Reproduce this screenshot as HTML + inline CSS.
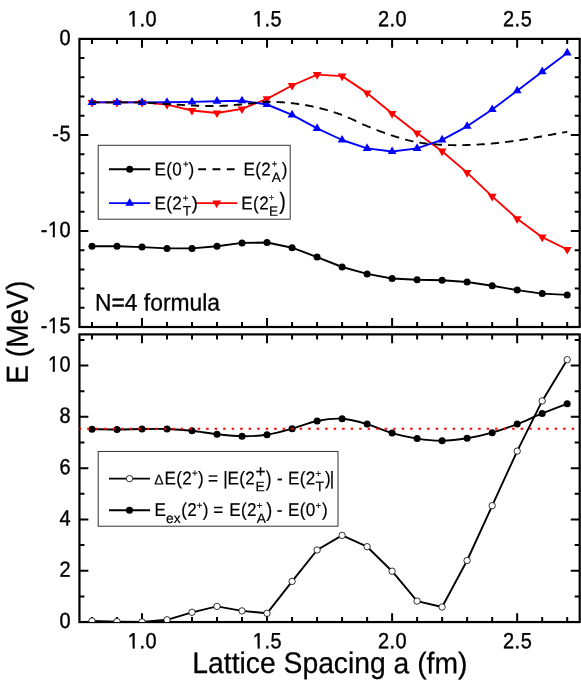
<!DOCTYPE html>
<html><head><meta charset="utf-8"><title>chart</title><style>html,body{margin:0;padding:0;background:#fff}svg{position:absolute;left:0;top:0}body{width:581px;height:681px;overflow:hidden;font-family:"Liberation Sans",sans-serif}</style></head><body>
<svg width="581" height="681" viewBox="0 0 581 681" style="display:block;will-change:transform" font-family="Liberation Sans, sans-serif">
<rect width="581" height="681" fill="#fff"/>
<defs>
<clipPath id="c1"><rect x="79.45" y="38.9" width="500.25" height="288.10"/></clipPath>
<clipPath id="c2"><rect x="79.45" y="334.4" width="500.25" height="287.65"/></clipPath>
</defs>
<rect x="79.45" y="38.9" width="500.25" height="288.10" fill="none" stroke="#000" stroke-width="2.2"/>
<rect x="79.45" y="334.4" width="500.25" height="287.65" fill="none" stroke="#000" stroke-width="2.2"/>
<path d="M91.96,38.9 v5.0 M91.96,327.0 v-5.0 M116.97,38.9 v5.0 M116.97,327.0 v-5.0 M141.98,38.9 v8.9 M141.98,327.0 v-8.9 M166.99,38.9 v5.0 M166.99,327.0 v-5.0 M192.01,38.9 v5.0 M192.01,327.0 v-5.0 M217.02,38.9 v5.0 M217.02,327.0 v-5.0 M242.03,38.9 v5.0 M242.03,327.0 v-5.0 M267.04,38.9 v8.9 M267.04,327.0 v-8.9 M292.06,38.9 v5.0 M292.06,327.0 v-5.0 M317.07,38.9 v5.0 M317.07,327.0 v-5.0 M342.08,38.9 v5.0 M342.08,327.0 v-5.0 M367.09,38.9 v5.0 M367.09,327.0 v-5.0 M392.11,38.9 v8.9 M392.11,327.0 v-8.9 M417.12,38.9 v5.0 M417.12,327.0 v-5.0 M442.13,38.9 v5.0 M442.13,327.0 v-5.0 M467.14,38.9 v5.0 M467.14,327.0 v-5.0 M492.16,38.9 v5.0 M492.16,327.0 v-5.0 M517.17,38.9 v8.9 M517.17,327.0 v-8.9 M542.18,38.9 v5.0 M542.18,327.0 v-5.0 M567.19,38.9 v5.0 M567.19,327.0 v-5.0" stroke="#000" stroke-width="2.0" fill="none"/>
<path d="M91.96,334.4 v5.0 M91.96,622.05 v-5.0 M116.97,334.4 v5.0 M116.97,622.05 v-5.0 M141.98,334.4 v8.9 M141.98,622.05 v-8.9 M166.99,334.4 v5.0 M166.99,622.05 v-5.0 M192.01,334.4 v5.0 M192.01,622.05 v-5.0 M217.02,334.4 v5.0 M217.02,622.05 v-5.0 M242.03,334.4 v5.0 M242.03,622.05 v-5.0 M267.04,334.4 v8.9 M267.04,622.05 v-8.9 M292.06,334.4 v5.0 M292.06,622.05 v-5.0 M317.07,334.4 v5.0 M317.07,622.05 v-5.0 M342.08,334.4 v5.0 M342.08,622.05 v-5.0 M367.09,334.4 v5.0 M367.09,622.05 v-5.0 M392.11,334.4 v8.9 M392.11,622.05 v-8.9 M417.12,334.4 v5.0 M417.12,622.05 v-5.0 M442.13,334.4 v5.0 M442.13,622.05 v-5.0 M467.14,334.4 v5.0 M467.14,622.05 v-5.0 M492.16,334.4 v5.0 M492.16,622.05 v-5.0 M517.17,334.4 v8.9 M517.17,622.05 v-8.9 M542.18,334.4 v5.0 M542.18,622.05 v-5.0 M567.19,334.4 v5.0 M567.19,622.05 v-5.0" stroke="#000" stroke-width="2.0" fill="none"/>
<path d="M79.45,38.90 h8.9 M579.7,38.90 h-8.9 M79.45,134.93 h8.9 M579.7,134.93 h-8.9 M79.45,230.97 h8.9 M579.7,230.97 h-8.9 M79.45,327.00 h8.9 M579.7,327.00 h-8.9 M79.45,58.11 h5.0 M579.7,58.11 h-5.0 M79.45,77.31 h5.0 M579.7,77.31 h-5.0 M79.45,96.52 h5.0 M579.7,96.52 h-5.0 M79.45,115.73 h5.0 M579.7,115.73 h-5.0 M79.45,154.14 h5.0 M579.7,154.14 h-5.0 M79.45,173.35 h5.0 M579.7,173.35 h-5.0 M79.45,192.55 h5.0 M579.7,192.55 h-5.0 M79.45,211.76 h5.0 M579.7,211.76 h-5.0 M79.45,250.17 h5.0 M579.7,250.17 h-5.0 M79.45,269.38 h5.0 M579.7,269.38 h-5.0 M79.45,288.59 h5.0 M579.7,288.59 h-5.0 M79.45,307.79 h5.0 M579.7,307.79 h-5.0" stroke="#000" stroke-width="2.0" fill="none"/>
<path d="M79.45,622.05 h8.9 M579.7,622.05 h-8.9 M79.45,570.75 h8.9 M579.7,570.75 h-8.9 M79.45,519.45 h8.9 M579.7,519.45 h-8.9 M79.45,468.15 h8.9 M579.7,468.15 h-8.9 M79.45,416.85 h8.9 M579.7,416.85 h-8.9 M79.45,365.55 h8.9 M579.7,365.55 h-8.9 M79.45,596.40 h5.0 M579.7,596.40 h-5.0 M79.45,545.10 h5.0 M579.7,545.10 h-5.0 M79.45,493.80 h5.0 M579.7,493.80 h-5.0 M79.45,442.50 h5.0 M579.7,442.50 h-5.0 M79.45,391.20 h5.0 M579.7,391.20 h-5.0 M79.45,339.90 h5.0 M579.7,339.90 h-5.0" stroke="#000" stroke-width="2.0" fill="none"/>
<g clip-path="url(#c1)">
<polyline points="92.0,246.3 117.0,246.3 142.0,247.1 167.0,248.4 192.0,248.4 217.0,246.3 242.0,242.9 267.0,242.5 292.1,247.7 317.1,257.1 342.1,267.0 367.1,273.9 392.1,278.5 417.1,279.8 442.1,280.2 467.1,282.0 492.2,285.8 517.2,290.1 542.2,293.6 567.2,294.9" fill="none" stroke="#000" stroke-width="1.9" stroke-linejoin="round"/>
<g fill="#000"><circle cx="92.0" cy="246.3" r="3.5"/><circle cx="117.0" cy="246.3" r="3.5"/><circle cx="142.0" cy="247.1" r="3.5"/><circle cx="167.0" cy="248.4" r="3.5"/><circle cx="192.0" cy="248.4" r="3.5"/><circle cx="217.0" cy="246.3" r="3.5"/><circle cx="242.0" cy="242.9" r="3.5"/><circle cx="267.0" cy="242.5" r="3.5"/><circle cx="292.1" cy="247.7" r="3.5"/><circle cx="317.1" cy="257.1" r="3.5"/><circle cx="342.1" cy="267.0" r="3.5"/><circle cx="367.1" cy="273.9" r="3.5"/><circle cx="392.1" cy="278.5" r="3.5"/><circle cx="417.1" cy="279.8" r="3.5"/><circle cx="442.1" cy="280.2" r="3.5"/><circle cx="467.1" cy="282.0" r="3.5"/><circle cx="492.2" cy="285.8" r="3.5"/><circle cx="517.2" cy="290.1" r="3.5"/><circle cx="542.2" cy="293.6" r="3.5"/><circle cx="567.2" cy="294.9" r="3.5"/></g>
<polyline points="92.0,102.4 117.0,102.4 142.0,102.4 167.0,104.6 192.0,110.5 217.0,113.0 242.0,108.9 267.0,98.8 292.1,85.5 317.1,74.6 342.1,76.1 367.1,92.9 392.1,113.6 417.1,133.0 442.1,151.2 467.1,172.6 492.2,196.4 517.2,218.8 542.2,237.2 567.2,249.5" fill="none" stroke="#f00" stroke-width="1.9" stroke-linejoin="round"/>
<g fill="#f00"><polygon points="92.0,107.5 87.5,99.9 96.4,99.9"/><polygon points="117.0,107.5 112.6,99.9 121.4,99.9"/><polygon points="142.0,107.5 137.6,99.9 146.4,99.9"/><polygon points="167.0,109.7 162.6,102.0 171.4,102.0"/><polygon points="192.0,115.6 187.6,108.0 196.4,108.0"/><polygon points="217.0,118.1 212.6,110.5 221.4,110.5"/><polygon points="242.0,114.0 237.6,106.4 246.4,106.4"/><polygon points="267.0,103.9 262.6,96.2 271.5,96.2"/><polygon points="292.1,90.6 287.6,83.0 296.5,83.0"/><polygon points="317.1,79.7 312.7,72.0 321.5,72.0"/><polygon points="342.1,81.2 337.7,73.5 346.5,73.5"/><polygon points="367.1,98.0 362.7,90.4 371.5,90.4"/><polygon points="392.1,118.7 387.7,111.0 396.5,111.0"/><polygon points="417.1,138.1 412.7,130.4 421.5,130.4"/><polygon points="442.1,156.3 437.7,148.6 446.5,148.6"/><polygon points="467.1,177.7 462.7,170.0 471.6,170.0"/><polygon points="492.2,201.5 487.7,193.8 496.6,193.8"/><polygon points="517.2,223.9 512.8,216.2 521.6,216.2"/><polygon points="542.2,242.3 537.8,234.6 546.6,234.6"/><polygon points="567.2,254.6 562.8,246.9 571.6,246.9"/></g>
<polyline points="92.0,102.4 117.0,102.4 142.0,102.4 167.0,102.3 192.0,101.9 217.0,101.2 242.0,100.8 267.0,104.5 292.1,114.9 317.1,128.3 342.1,140.0 367.1,148.4 392.1,151.5 417.1,148.4 442.1,139.8 467.1,126.3 492.2,109.5 517.2,90.8 542.2,71.7 567.2,52.9" fill="none" stroke="#00f" stroke-width="1.9" stroke-linejoin="round"/>
<g fill="#00f"><polygon points="92.0,97.3 87.5,105.0 96.4,105.0"/><polygon points="117.0,97.3 112.6,105.0 121.4,105.0"/><polygon points="142.0,97.3 137.6,105.0 146.4,105.0"/><polygon points="167.0,97.2 162.6,104.8 171.4,104.8"/><polygon points="192.0,96.8 187.6,104.5 196.4,104.5"/><polygon points="217.0,96.1 212.6,103.8 221.4,103.8"/><polygon points="242.0,95.7 237.6,103.3 246.4,103.3"/><polygon points="267.0,99.4 262.6,107.0 271.5,107.0"/><polygon points="292.1,109.8 287.6,117.5 296.5,117.5"/><polygon points="317.1,123.2 312.7,130.9 321.5,130.9"/><polygon points="342.1,134.9 337.7,142.6 346.5,142.6"/><polygon points="367.1,143.3 362.7,151.0 371.5,151.0"/><polygon points="392.1,146.4 387.7,154.1 396.5,154.1"/><polygon points="417.1,143.3 412.7,151.0 421.5,151.0"/><polygon points="442.1,134.7 437.7,142.4 446.5,142.4"/><polygon points="467.1,121.2 462.7,128.8 471.6,128.8"/><polygon points="492.2,104.4 487.7,112.0 496.6,112.0"/><polygon points="517.2,85.7 512.8,93.3 521.6,93.3"/><polygon points="542.2,66.6 537.8,74.2 546.6,74.2"/><polygon points="567.2,47.8 562.8,55.4 571.6,55.4"/></g>
<path d="M92.0,102.4 L92.5,102.4 L93.2,102.4 L93.9,102.4 L94.7,102.4 L95.5,102.4 L96.5,102.4 L97.4,102.4 L98.4,102.4 L99.3,102.4 M105.3,102.4 L105.3,102.4 L106.5,102.4 L107.7,102.4 L108.9,102.4 L110.1,102.4 L111.3,102.4 L112.5,102.4 L113.6,102.4 M119.6,102.4 L120.1,102.4 L121.1,102.4 L122.2,102.4 L123.2,102.4 L124.3,102.4 L125.3,102.4 L126.3,102.4 L127.4,102.4 L127.8,102.4 M133.8,102.4 L134.7,102.4 L135.7,102.4 L136.8,102.4 L137.8,102.4 L138.9,102.4 L139.9,102.4 L140.9,102.5 L142.0,102.5 L142.1,102.5 M148.1,102.8 L148.2,102.8 L149.3,102.8 L150.3,102.9 L151.4,103.0 L152.4,103.0 L153.4,103.1 L154.5,103.2 L155.5,103.2 L156.4,103.3 M162.4,103.7 L162.8,103.7 L163.9,103.8 L164.9,103.9 L166.0,103.9 L167.0,104.0 L168.0,104.1 L169.1,104.1 L170.1,104.2 L170.7,104.2 M176.7,104.6 L177.4,104.7 L178.5,104.7 L179.5,104.8 L180.5,104.9 L181.6,104.9 L182.6,105.0 L183.7,105.1 L184.7,105.1 L185.0,105.2 M191.0,105.5 L191.0,105.5 L192.0,105.5 L193.0,105.5 L194.1,105.6 L195.1,105.6 L196.2,105.7 L197.2,105.7 L198.3,105.7 L199.2,105.8 M205.2,106.0 L205.6,106.0 L206.6,106.0 L207.6,106.0 L208.7,106.0 L209.7,106.0 L210.8,106.0 L211.8,106.1 L212.9,106.0 L213.5,106.0 M219.5,105.9 L220.1,105.9 L221.2,105.9 L222.2,105.8 L223.3,105.8 L224.3,105.7 L225.4,105.7 L226.4,105.6 L227.4,105.5 L227.8,105.5 M233.8,105.1 L234.7,105.0 L235.8,104.9 L236.8,104.8 L237.9,104.7 L238.9,104.7 L239.9,104.6 L241.0,104.5 L242.0,104.4 L242.1,104.4 M248.1,103.8 L248.3,103.7 L249.3,103.6 L250.4,103.5 L251.4,103.4 L252.5,103.2 L253.5,103.1 L254.5,103.0 L255.6,102.8 L256.4,102.7 M262.4,102.1 L262.9,102.1 L263.9,102.0 L265.0,102.0 L266.0,101.9 L267.0,101.9 L268.1,101.9 L269.1,101.9 L270.2,101.9 L270.6,101.9 M276.6,102.0 L277.5,102.0 L278.5,102.1 L279.6,102.1 L280.6,102.2 L281.6,102.3 L282.7,102.3 L283.7,102.4 L284.8,102.5 L284.9,102.5 M290.9,103.1 L291.0,103.1 L292.1,103.2 L293.1,103.3 L294.1,103.4 L295.2,103.6 L296.2,103.7 L297.3,103.8 L298.3,104.0 L299.2,104.1 M305.2,105.1 L305.6,105.1 L306.6,105.3 L307.7,105.5 L308.7,105.7 L309.8,105.9 L310.8,106.1 L311.9,106.3 L312.9,106.6 L313.5,106.7 M319.5,108.1 L320.2,108.3 L321.2,108.5 L322.3,108.8 L323.3,109.1 L324.4,109.3 L325.4,109.6 L326.4,109.9 L327.5,110.2 L327.8,110.3 M333.8,112.1 L334.8,112.5 L335.8,112.8 L336.9,113.1 L337.9,113.5 L339.0,113.9 L340.0,114.2 L341.0,114.6 L342.0,115.0 M348.0,117.4 L348.3,117.6 L349.4,118.0 L350.4,118.5 L351.5,119.0 L352.5,119.5 L353.5,119.9 L354.6,120.4 L355.6,120.9 L356.3,121.2 M362.3,124.0 L362.9,124.3 L364.0,124.8 L365.0,125.2 L366.1,125.7 L367.1,126.1 L368.1,126.5 L369.2,127.0 L370.2,127.4 L370.6,127.5 M376.6,129.9 L377.5,130.3 L378.6,130.7 L379.6,131.1 L380.6,131.5 L381.7,131.9 L382.7,132.2 L383.8,132.6 L384.8,133.0 L384.9,133.0 M390.9,135.1 L391.1,135.2 L392.1,135.5 L393.1,135.8 L394.2,136.2 L395.2,136.5 L396.3,136.8 L397.3,137.1 L398.4,137.5 L399.2,137.7 M405.2,139.4 L405.7,139.6 L406.7,139.8 L407.7,140.1 L408.8,140.4 L409.8,140.6 L410.9,140.9 L411.9,141.1 L413.0,141.4 L413.4,141.5 M419.4,142.6 L420.2,142.7 L421.3,142.9 L422.3,143.1 L423.4,143.2 L424.4,143.3 L425.5,143.5 L426.5,143.6 L427.5,143.7 L427.7,143.7 M433.7,144.3 L433.8,144.3 L434.8,144.3 L435.9,144.4 L436.9,144.5 L438.0,144.6 L439.0,144.6 L440.0,144.7 L441.1,144.7 L442.0,144.8 M448.0,145.0 L448.4,145.1 L449.4,145.1 L450.5,145.1 L451.5,145.1 L452.6,145.1 L453.6,145.1 L454.6,145.2 L455.7,145.2 L456.3,145.2 M462.3,145.1 L463.0,145.1 L464.0,145.1 L465.1,145.1 L466.1,145.0 L467.1,145.0 L468.2,145.0 L469.2,144.9 L470.3,144.9 L470.6,144.9 M476.6,144.6 L477.6,144.6 L478.6,144.5 L479.7,144.4 L480.7,144.4 L481.7,144.3 L482.8,144.2 L483.8,144.2 L484.8,144.1 M490.8,143.6 L491.1,143.6 L492.2,143.5 L493.2,143.4 L494.2,143.3 L495.3,143.2 L496.3,143.1 L497.4,143.0 L498.4,142.9 L499.1,142.8 M505.1,142.1 L505.7,142.0 L506.7,141.9 L507.8,141.8 L508.8,141.6 L509.9,141.5 L510.9,141.4 L512.0,141.2 L513.0,141.1 L513.4,141.0 M519.4,140.2 L520.3,140.0 L521.3,139.9 L522.4,139.7 L523.4,139.5 L524.5,139.4 L525.5,139.2 L526.5,139.0 L527.6,138.9 L527.7,138.8 M533.7,137.8 L533.8,137.8 L534.9,137.6 L535.9,137.4 L537.0,137.2 L538.0,137.0 L539.1,136.8 L540.1,136.7 L541.1,136.5 L542.0,136.3 M548.0,135.3 L549.0,135.1 L550.2,134.9 L551.4,134.7 L552.7,134.4 L553.9,134.2 L555.1,134.0 L556.2,133.8 M562.2,132.7 L562.7,132.6 L563.6,132.4 L564.5,132.3 L565.3,132.1 L566.0,132.0 L566.6,131.9 L567.2,131.8" fill="none" stroke="#000" stroke-width="1.9"/>
</g>
<g clip-path="url(#c2)">
<polyline points="92.0,621.0 117.0,621.6 142.0,621.9 167.0,619.8 192.0,612.3 217.0,606.4 242.0,610.9 267.0,613.3 292.1,581.4 317.1,550.0 342.1,535.4 367.1,546.7 392.1,571.2 417.1,601.1 442.1,607.0 467.1,560.5 492.2,505.7 517.2,451.1 542.2,400.9 567.2,359.7" fill="none" stroke="#000" stroke-width="1.9" stroke-linejoin="round"/>
<g fill="#fff" stroke="#000" stroke-width="0.8"><circle cx="92.0" cy="621.0" r="3.2"/><circle cx="117.0" cy="621.6" r="3.2"/><circle cx="142.0" cy="621.9" r="3.2"/><circle cx="167.0" cy="619.8" r="3.2"/><circle cx="192.0" cy="612.3" r="3.2"/><circle cx="217.0" cy="606.4" r="3.2"/><circle cx="242.0" cy="610.9" r="3.2"/><circle cx="267.0" cy="613.3" r="3.2"/><circle cx="292.1" cy="581.4" r="3.2"/><circle cx="317.1" cy="550.0" r="3.2"/><circle cx="342.1" cy="535.4" r="3.2"/><circle cx="367.1" cy="546.7" r="3.2"/><circle cx="392.1" cy="571.2" r="3.2"/><circle cx="417.1" cy="601.1" r="3.2"/><circle cx="442.1" cy="607.0" r="3.2"/><circle cx="467.1" cy="560.5" r="3.2"/><circle cx="492.2" cy="505.7" r="3.2"/><circle cx="517.2" cy="451.1" r="3.2"/><circle cx="542.2" cy="400.9" r="3.2"/><circle cx="567.2" cy="359.7" r="3.2"/></g>
<path d="M92.0,429.2 C96.1,429.2 108.6,429.5 117.0,429.5 C125.3,429.5 133.6,429.1 142.0,429.0 C150.3,428.9 158.7,428.7 167.0,429.0 C175.3,429.3 183.7,429.9 192.0,430.8 C200.3,431.7 208.7,433.3 217.0,434.2 C225.4,435.1 233.7,436.1 242.0,436.2 C250.4,436.3 258.7,435.9 267.0,434.7 C275.4,433.4 283.7,431.0 292.1,428.7 C300.4,426.4 308.7,422.7 317.1,421.0 C325.4,419.3 333.7,418.2 342.1,418.7 C350.4,419.2 358.8,421.7 367.1,424.1 C375.4,426.5 383.8,430.7 392.1,433.1 C400.4,435.5 408.8,437.3 417.1,438.6 C425.5,439.9 433.8,440.8 442.1,440.7 C450.5,440.6 458.8,439.6 467.1,438.3 C475.5,437.0 483.8,435.1 492.2,432.7 C500.5,430.3 508.8,427.3 517.2,424.1 C525.5,420.9 533.8,416.8 542.2,413.4 C550.5,410.0 563.0,405.3 567.2,403.7" fill="none" stroke="#000" stroke-width="1.9"/>
<g fill="#000"><circle cx="92.0" cy="429.2" r="3.5"/><circle cx="117.0" cy="429.5" r="3.5"/><circle cx="142.0" cy="429.0" r="3.5"/><circle cx="167.0" cy="429.0" r="3.5"/><circle cx="192.0" cy="430.8" r="3.5"/><circle cx="217.0" cy="434.2" r="3.5"/><circle cx="242.0" cy="436.2" r="3.5"/><circle cx="267.0" cy="434.7" r="3.5"/><circle cx="292.1" cy="428.7" r="3.5"/><circle cx="317.1" cy="421.0" r="3.5"/><circle cx="342.1" cy="418.7" r="3.5"/><circle cx="367.1" cy="424.1" r="3.5"/><circle cx="392.1" cy="433.1" r="3.5"/><circle cx="417.1" cy="438.6" r="3.5"/><circle cx="442.1" cy="440.7" r="3.5"/><circle cx="467.1" cy="438.3" r="3.5"/><circle cx="492.2" cy="432.7" r="3.5"/><circle cx="517.2" cy="424.1" r="3.5"/><circle cx="542.2" cy="413.4" r="3.5"/><circle cx="567.2" cy="403.7" r="3.5"/></g>
<path d="M78.65,428.8 H579.7" stroke="#f00" stroke-width="2.1" stroke-dasharray="2.5 6.0" fill="none"/>
</g>
<g transform="translate(142.45,26.30) rotate(0.03) scale(0.905,1)"><text font-size="22.0" text-anchor="middle" stroke="#000" stroke-width="0.4" letter-spacing="0.6">1.0</text><rect x="-15.52" y="-2.44" width="4.64" height="3.64" fill="#fff"/><rect x="-8.49" y="-2.44" width="4.46" height="3.64" fill="#fff"/></g>
<g transform="translate(142.45,648.30) rotate(0.03) scale(0.905,1)"><text font-size="22.0" text-anchor="middle" stroke="#000" stroke-width="0.4" letter-spacing="0.6">1.0</text><rect x="-15.52" y="-2.44" width="4.64" height="3.64" fill="#fff"/><rect x="-8.49" y="-2.44" width="4.46" height="3.64" fill="#fff"/></g>
<g transform="translate(267.52,26.30) rotate(0.03) scale(0.905,1)"><text font-size="22.0" text-anchor="middle" stroke="#000" stroke-width="0.4" letter-spacing="0.6">1.5</text><rect x="-15.52" y="-2.44" width="4.64" height="3.64" fill="#fff"/><rect x="-8.49" y="-2.44" width="4.46" height="3.64" fill="#fff"/></g>
<g transform="translate(267.52,648.30) rotate(0.03) scale(0.905,1)"><text font-size="22.0" text-anchor="middle" stroke="#000" stroke-width="0.4" letter-spacing="0.6">1.5</text><rect x="-15.52" y="-2.44" width="4.64" height="3.64" fill="#fff"/><rect x="-8.49" y="-2.44" width="4.46" height="3.64" fill="#fff"/></g>
<text transform="translate(392.58,26.30) rotate(0.03) scale(0.905,1)" font-size="22.0" text-anchor="middle" stroke="#000" stroke-width="0.4" letter-spacing="0.6">2.0</text>
<text transform="translate(392.58,648.30) rotate(0.03) scale(0.905,1)" font-size="22.0" text-anchor="middle" stroke="#000" stroke-width="0.4" letter-spacing="0.6">2.0</text>
<text transform="translate(517.64,26.30) rotate(0.03) scale(0.905,1)" font-size="22.0" text-anchor="middle" stroke="#000" stroke-width="0.4" letter-spacing="0.6">2.5</text>
<text transform="translate(517.64,648.30) rotate(0.03) scale(0.905,1)" font-size="22.0" text-anchor="middle" stroke="#000" stroke-width="0.4" letter-spacing="0.6">2.5</text>
<text transform="translate(71.14,44.90) rotate(0.03) scale(0.905,1)" font-size="22.0" text-anchor="end" stroke="#000" stroke-width="0.4" letter-spacing="0.6">0</text>
<text transform="translate(71.14,140.93) rotate(0.03) scale(0.905,1)" font-size="22.0" text-anchor="end" stroke="#000" stroke-width="0.4" letter-spacing="0.6">-5</text>
<g transform="translate(71.14,236.97) rotate(0.03) scale(0.905,1)"><text font-size="22.0" text-anchor="end" stroke="#000" stroke-width="0.4" letter-spacing="0.6">-10</text><rect x="-24.99" y="-2.44" width="4.64" height="3.64" fill="#fff"/><rect x="-17.97" y="-2.44" width="4.46" height="3.64" fill="#fff"/></g>
<g transform="translate(71.14,333.00) rotate(0.03) scale(0.905,1)"><text font-size="22.0" text-anchor="end" stroke="#000" stroke-width="0.4" letter-spacing="0.6">-15</text><rect x="-24.99" y="-2.44" width="4.64" height="3.64" fill="#fff"/><rect x="-17.97" y="-2.44" width="4.46" height="3.64" fill="#fff"/></g>
<text transform="translate(71.14,628.05) rotate(0.03) scale(0.905,1)" font-size="22.0" text-anchor="end" stroke="#000" stroke-width="0.4" letter-spacing="0.6">0</text>
<text transform="translate(71.14,576.75) rotate(0.03) scale(0.905,1)" font-size="22.0" text-anchor="end" stroke="#000" stroke-width="0.4" letter-spacing="0.6">2</text>
<text transform="translate(71.14,525.45) rotate(0.03) scale(0.905,1)" font-size="22.0" text-anchor="end" stroke="#000" stroke-width="0.4" letter-spacing="0.6">4</text>
<text transform="translate(71.14,474.15) rotate(0.03) scale(0.905,1)" font-size="22.0" text-anchor="end" stroke="#000" stroke-width="0.4" letter-spacing="0.6">6</text>
<text transform="translate(71.14,422.85) rotate(0.03) scale(0.905,1)" font-size="22.0" text-anchor="end" stroke="#000" stroke-width="0.4" letter-spacing="0.6">8</text>
<g transform="translate(71.14,371.55) rotate(0.03) scale(0.905,1)"><text font-size="22.0" text-anchor="end" stroke="#000" stroke-width="0.4" letter-spacing="0.6">10</text><rect x="-24.99" y="-2.44" width="4.64" height="3.64" fill="#fff"/><rect x="-17.97" y="-2.44" width="4.46" height="3.64" fill="#fff"/></g>
<text transform="translate(329.90,673.10) rotate(0.03) scale(1,1.05)" font-size="28.3" text-anchor="middle" stroke="#000" stroke-width="0.25">Lattice Spacing a (fm)</text>
<text transform="translate(27.80,332.20) rotate(-89.97) scale(1,1.08)" font-size="28.1" text-anchor="middle" stroke="#000" stroke-width="0.25">E (MeV)</text>
<text transform="translate(95.00,310.50) rotate(0.03) scale(1,1.048)" font-size="22.85" text-anchor="start" stroke="#000" stroke-width="0.3">N=4 formula</text>
<rect x="98.2" y="145.3" width="192" height="73.9" fill="#fff" stroke="#333" stroke-width="1"/>
<path d="M109,169.25 H150.2" stroke="#000" stroke-width="1.9"/><circle cx="129.7" cy="169.25" r="3.5"/>
<path d="M198.2,169.25 H234.6" stroke="#000" stroke-width="1.9" stroke-dasharray="7.9 6.4"/>
<path d="M109,203.1 H150.2" stroke="#00f" stroke-width="1.9"/><g fill="#00f"><polygon points="129.7,198.0 125.3,205.7 134.1,205.7"/></g>
<path d="M196.3,203.1 H237.4" stroke="#f00" stroke-width="1.9"/><g fill="#f00"><polygon points="216.7,208.2 212.3,200.5 221.1,200.5"/></g>
<text transform="translate(154.54,175.50) rotate(0.03) scale(0.96,1.045)" font-size="17.8" text-anchor="start" stroke="#000" stroke-width="0.2" letter-spacing="0.38">E(0</text>
<text transform="translate(183.10,167.20) rotate(0.03)" font-size="9.6" text-anchor="start" stroke="#000" stroke-width="0.2">+</text>
<text transform="translate(188.60,175.50) rotate(0.03) scale(0.96,1.045)" font-size="17.8" text-anchor="start" stroke="#000" stroke-width="0.2" letter-spacing="0.38">)</text>
<text transform="translate(243.54,175.50) rotate(0.03) scale(0.96,1.045)" font-size="17.8" text-anchor="start" stroke="#000" stroke-width="0.2" letter-spacing="0.38">E(2</text>
<text transform="translate(271.85,166.90) rotate(0.03)" font-size="9.7" text-anchor="start" stroke="#000" stroke-width="0.2">+</text>
<text transform="translate(271.80,181.90) rotate(0.03)" font-size="13.7" text-anchor="start" stroke="#000" stroke-width="0.2">A</text>
<text transform="translate(281.80,175.50) rotate(0.03) scale(0.96,1.045)" font-size="17.8" text-anchor="start" stroke="#000" stroke-width="0.2" letter-spacing="0.38">)</text>
<text transform="translate(154.54,209.50) rotate(0.03) scale(0.96,1.045)" font-size="17.8" text-anchor="start" stroke="#000" stroke-width="0.2" letter-spacing="0.38">E(2</text>
<text transform="translate(182.65,201.30) rotate(0.03)" font-size="9.7" text-anchor="start" stroke="#000" stroke-width="0.2">+</text>
<text transform="translate(182.80,215.55) rotate(0.03)" font-size="13.8" text-anchor="start" stroke="#000" stroke-width="0.2">T</text>
<text transform="translate(191.80,209.60) rotate(0.03)" font-size="18.4" text-anchor="start" stroke="#000" stroke-width="0.2">)</text>
<text transform="translate(241.34,209.40) rotate(0.03) scale(0.96,1.045)" font-size="17.8" text-anchor="start" stroke="#000" stroke-width="0.2" letter-spacing="0.38">E(2</text>
<text transform="translate(268.85,200.70) rotate(0.03)" font-size="9.6" text-anchor="start" fill="#333" stroke="#333" stroke-width="0.2">+</text>
<text transform="translate(269.00,215.80) rotate(0.03)" font-size="13.6" text-anchor="start" stroke="#000" stroke-width="0.2">E</text>
<text transform="translate(279.20,209.40) rotate(0.03) scale(0.83,1)" font-size="23.8" text-anchor="start" stroke="#000" stroke-width="0.2">)</text>
<rect x="98.2" y="451.45" width="239.8" height="74.75" fill="#fff" stroke="#333" stroke-width="1"/>
<path d="M109,478.6 H150" stroke="#000" stroke-width="1.9"/><circle cx="129.5" cy="478.6" r="3.2" fill="#fff" stroke="#000" stroke-width="0.8"/>
<path d="M109,510.2 H150" stroke="#000" stroke-width="1.9"/><circle cx="129.5" cy="510.2" r="3.5"/>
<text transform="translate(154.31,484.50) rotate(0.03)" font-size="14" text-anchor="start" stroke="#000" stroke-width="0.2">&#916;</text>
<text transform="translate(164.54,484.50) rotate(0.03) scale(0.96,1.045)" font-size="17.8" text-anchor="start" stroke="#000" stroke-width="0.2" letter-spacing="0.38">E(2</text>
<text transform="translate(192.03,476.20) rotate(0.03)" font-size="9.7" text-anchor="start" stroke="#000" stroke-width="0.2">+</text>
<text transform="translate(197.90,484.50) rotate(0.03) scale(0.96,1.045)" font-size="17.8" text-anchor="start" stroke="#000" stroke-width="0.2" letter-spacing="0.38">)</text>
<text transform="translate(207.93,484.50) rotate(0.03) scale(0.96,1.045)" font-size="17.8" text-anchor="start" stroke="#000" stroke-width="0.2" letter-spacing="0.38">=</text>
<text transform="translate(223.21,484.50) rotate(0.03) scale(0.96,1.045)" font-size="17.8" text-anchor="start" stroke="#000" stroke-width="0.2" letter-spacing="0.38">|</text>
<text transform="translate(227.54,484.50) rotate(0.03) scale(0.96,1.045)" font-size="17.8" text-anchor="start" stroke="#000" stroke-width="0.2" letter-spacing="0.38">E(2</text>
<text transform="translate(255.56,477.15) rotate(0.03)" font-size="17.3" text-anchor="start" stroke="#000" stroke-width="0.2">+</text>
<text transform="translate(255.57,491.30) rotate(0.03)" font-size="13.8" text-anchor="start" stroke="#000" stroke-width="0.2">E</text>
<text transform="translate(265.70,485.70) rotate(0.03) scale(0.81,1)" font-size="21.35" text-anchor="start" stroke="#000" stroke-width="0.2">)</text>
<text transform="translate(277.01,484.50) rotate(0.03) scale(0.96,1.045)" font-size="17.8" text-anchor="start" stroke="#000" stroke-width="0.2" letter-spacing="0.38">-</text>
<text transform="translate(288.04,484.50) rotate(0.03) scale(0.96,1.045)" font-size="17.8" text-anchor="start" stroke="#000" stroke-width="0.2" letter-spacing="0.38">E(2</text>
<text transform="translate(315.53,476.70) rotate(0.03)" font-size="9.7" text-anchor="start" stroke="#000" stroke-width="0.2">+</text>
<text transform="translate(315.39,491.30) rotate(0.03)" font-size="14" text-anchor="start" stroke="#000" stroke-width="0.2">T</text>
<text transform="translate(325.10,484.50) rotate(0.03) scale(0.96,1.045)" font-size="17.8" text-anchor="start" stroke="#000" stroke-width="0.2" letter-spacing="0.38">)</text>
<text transform="translate(329.81,484.50) rotate(0.03) scale(0.96,1.045)" font-size="17.8" text-anchor="start" stroke="#000" stroke-width="0.2" letter-spacing="0.38">|</text>
<text transform="translate(154.54,516.00) rotate(0.03) scale(0.96,1.045)" font-size="17.8" text-anchor="start" stroke="#000" stroke-width="0.2" letter-spacing="0.38">E</text>
<text transform="translate(166.01,523.10) rotate(0.03)" font-size="13.8" text-anchor="start" stroke="#000" stroke-width="0.2">ex</text>
<text transform="translate(181.20,516.00) rotate(0.03) scale(0.96,1.045)" font-size="17.8" text-anchor="start" stroke="#000" stroke-width="0.2" letter-spacing="0.38">(2</text>
<text transform="translate(196.63,508.60) rotate(0.03)" font-size="9.7" text-anchor="start" stroke="#000" stroke-width="0.2">+</text>
<text transform="translate(202.70,516.00) rotate(0.03) scale(0.96,1.045)" font-size="17.8" text-anchor="start" stroke="#000" stroke-width="0.2" letter-spacing="0.38">)</text>
<text transform="translate(213.33,516.00) rotate(0.03) scale(0.96,1.045)" font-size="17.8" text-anchor="start" stroke="#000" stroke-width="0.2" letter-spacing="0.38">=</text>
<text transform="translate(229.14,516.00) rotate(0.03) scale(0.96,1.045)" font-size="17.8" text-anchor="start" stroke="#000" stroke-width="0.2" letter-spacing="0.38">E(2</text>
<text transform="translate(256.63,508.70) rotate(0.03)" font-size="9.7" text-anchor="start" stroke="#000" stroke-width="0.2">+</text>
<text transform="translate(256.67,523.10) rotate(0.03)" font-size="13.8" text-anchor="start" stroke="#000" stroke-width="0.2">A</text>
<text transform="translate(266.30,516.70) rotate(0.03) scale(0.9,1)" font-size="19.9" text-anchor="start" stroke="#000" stroke-width="0.2">)</text>
<text transform="translate(276.81,516.00) rotate(0.03) scale(0.96,1.045)" font-size="17.8" text-anchor="start" stroke="#000" stroke-width="0.2" letter-spacing="0.38">-</text>
<text transform="translate(288.04,516.00) rotate(0.03) scale(0.96,1.045)" font-size="17.8" text-anchor="start" stroke="#000" stroke-width="0.2" letter-spacing="0.38">E(0</text>
<text transform="translate(315.53,508.70) rotate(0.03)" font-size="9.7" text-anchor="start" stroke="#000" stroke-width="0.2">+</text>
<text transform="translate(322.10,516.00) rotate(0.03) scale(0.96,1.045)" font-size="17.8" text-anchor="start" stroke="#000" stroke-width="0.2" letter-spacing="0.38">)</text>
</svg>
</body></html>
